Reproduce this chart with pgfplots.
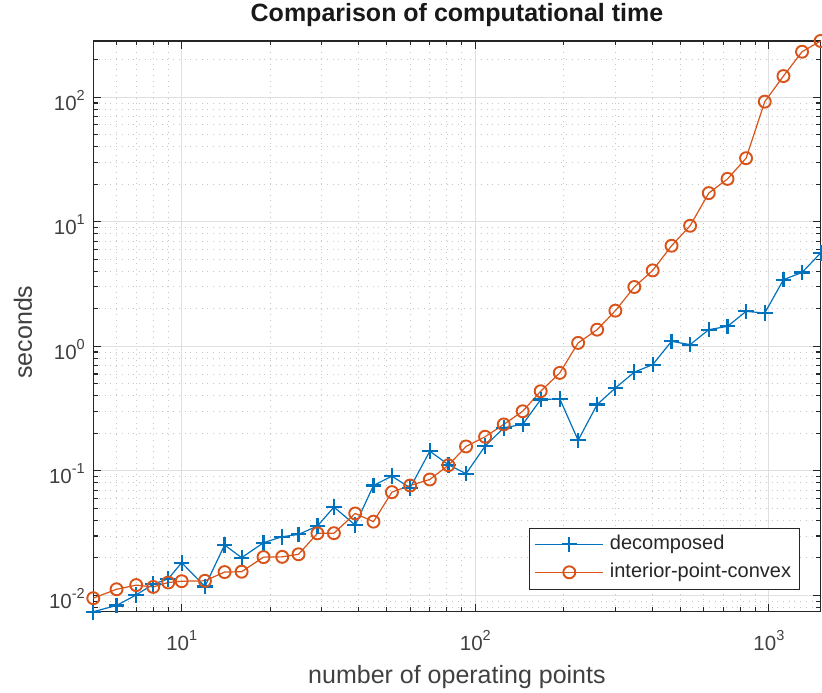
\documentclass[border=0pt]{standalone}
\usepackage{fontspec}
\setmainfont{Liberation Sans}
\usepackage{pgfplots}
\pgfplotsset{compat=1.18}
\definecolor{mblue}{rgb}{0,0.447,0.741}
\definecolor{mred}{rgb}{0.85,0.325,0.098}
\definecolor{axgray}{gray}{0.15}
\definecolor{txtgray}{gray}{0.25}
\newcommand\lbl[1]{10\raisebox{0.48em}{\fontsize{14.5pt}{14.5pt}\selectfont #1}}

\pgfplotstableread{
x y
5 0.0074
6 0.0083
7 0.0101
8 0.0123
9 0.0136
10 0.0183
12 0.0118
14 0.0254
16 0.0201
19 0.0265
22 0.0296
25 0.0309
29 0.0361
33 0.0512
39 0.0367
45 0.0763
52 0.0907
60 0.0731
70 0.144
81 0.112
93 0.095
108 0.158
125 0.222
145 0.236
167 0.374
194 0.379
224 0.176
260 0.341
300 0.463
348 0.62
402 0.713
466 1.097
539 1.032
624 1.361
723 1.447
836 1.909
968 1.851
1121 3.43
1297 3.92
1500 5.61
}\decomposed

\pgfplotstableread{
x y
5 0.0095
6 0.0112
7 0.0121
8 0.0117
9 0.0127
10 0.0130
12 0.0131
14 0.0154
16 0.0155
19 0.0203
22 0.0204
25 0.0214
29 0.0315
33 0.0316
39 0.0455
45 0.0391
52 0.0675
60 0.0763
70 0.0853
81 0.111
93 0.157
108 0.188
125 0.236
145 0.301
167 0.436
194 0.612
224 1.065
260 1.361
300 1.933
348 2.995
402 4.07
466 6.42
539 9.29
624 17.0
723 22.1
836 32.4
968 92.2
1121 148
1297 232
1500 283
}\interior

\begin{document}
\begin{tikzpicture}
\useasboundingbox (-93.3pt,-81.3pt) rectangle (728.7pt,611.7pt);
\begin{axis}[
  at={(0pt,0pt)}, anchor=south west,
  scale only axis, width=727.3pt, height=570.7pt,
  xmode=log, ymode=log,
  xmin=5, xmax=1500, ymin=0.0074, ymax=283,
  xtick={10,100,1000},
  xticklabels={\lbl{1},\lbl{2},\lbl{3}},
  minor xtick={5,6,7,8,9,20,30,40,50,60,70,80,90,200,300,400,500,600,700,800,900},
  ytick={0.01,0.1,1,10,100},
  yticklabels={\lbl{-2},\lbl{-1},\lbl{0},\lbl{1},\lbl{2}},
  minor ytick={0.008,0.009,0.02,0.03,0.04,0.05,0.06,0.07,0.08,0.09,0.2,0.3,0.4,0.5,0.6,0.7,0.8,0.9,2,3,4,5,6,7,8,9,20,30,40,50,60,70,80,90,200},
  tick align=inside, tick pos=both,
  major tick length=8pt, minor tick length=4.5pt,
  every tick/.style={axgray, line width=1.1pt},
  axis line style={axgray, line width=1.3pt},
  grid=both,
  major grid style={gray!25, line width=0.9pt},
  minor grid style={gray!45, line width=0.9pt, dash pattern=on 0.9pt off 4.8pt},
  tick label style={font=\fontsize{20.5pt}{24pt}\selectfont, text=txtgray},
  xticklabel style={anchor=base, yshift=-39pt},
  yticklabel style={anchor=east, xshift=-5pt, yshift=-3pt},
  title={Comparison of computational time},
  title style={at={(axis description cs:0.5,1.0228)}, anchor=base, font=\fontsize{25pt}{29pt}\selectfont\bfseries, text=black!90},
  xlabel={number of operating points},
  xlabel style={at={(axis description cs:0.5,-0.1255)}, anchor=base, font=\fontsize{25pt}{29pt}\selectfont, text=txtgray},
  ylabel={seconds},
  ylabel style={at={(axis description cs:-0.0845,0.49)}, anchor=base, font=\fontsize{25pt}{29pt}\selectfont, text=txtgray},
  clip=false,
  legend style={at={(axis description cs:1,0)}, anchor=south east, xshift=-21.3pt, yshift=22.7pt,
    draw=axgray, fill=white, font=\fontsize{20pt}{24pt}\selectfont, text=black!85,
    row sep=5pt, column sep=4pt, inner xsep=6pt, inner ysep=5pt,
    nodes={inner sep=2pt, text height=14.5pt, text depth=4.5pt}},
  legend cell align=left,
  legend image code/.code={\draw[mark repeat=2,mark phase=2] plot coordinates {(0pt,0pt) (34pt,0pt) (68pt,0pt)};},
]
\addplot[mblue, line width=1.2pt, mark=+, mark size=7.8pt, mark options={line width=2.2pt}] table[x=x,y=y] {\decomposed};
\addlegendentry{decomposed}
\addplot[mred, line width=1.2pt, mark=o, mark size=6pt, mark options={line width=1.9pt}] table[x=x,y=y] {\interior};
\addlegendentry{interior-point-convex}
\end{axis}
\end{tikzpicture}
\end{document}
